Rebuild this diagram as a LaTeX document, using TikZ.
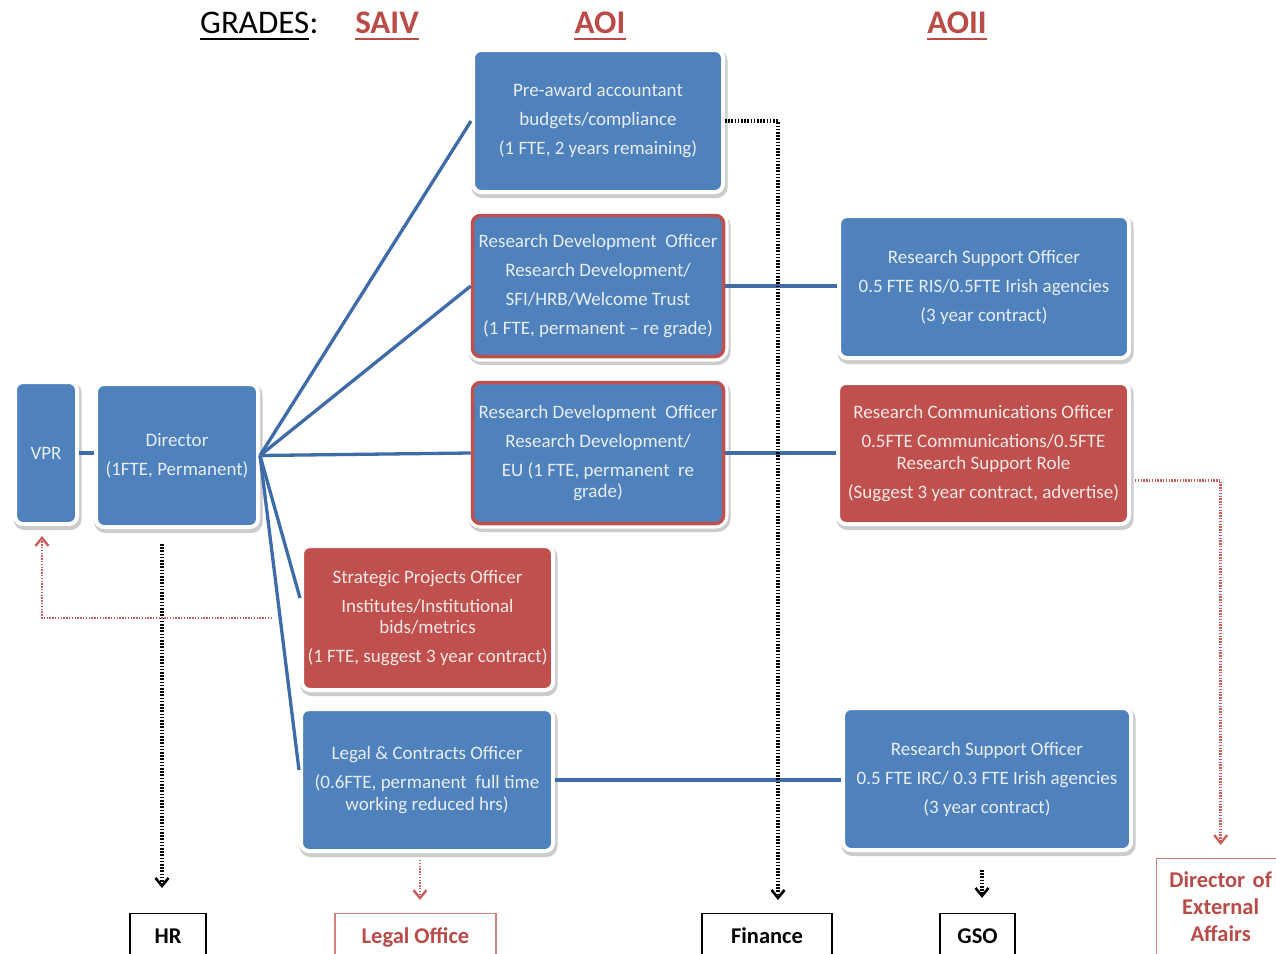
\documentclass[tikz,border=0pt]{standalone}
\usepackage{fontspec}
\setmainfont{Carlito}
\usetikzlibrary{arrows.meta,calc}
\definecolor{boxblue}{RGB}{79,129,189}
\definecolor{boxred}{RGB}{192,80,77}
\definecolor{lineblue}{RGB}{62,108,168}
\definecolor{txtblue}{RGB}{232,238,247}
\definecolor{txtred}{RGB}{250,232,230}
\definecolor{hdrred}{RGB}{185,75,72}
\definecolor{dotred}{RGB}{200,95,92}
\newcommand\pbr{\\[7.5pt]}
\begin{document}
\begin{tikzpicture}[x=1pt,y=-1pt,
  basebox/.style={rounded corners=8pt, text=txtblue, align=center, inner sep=0pt,
     font=\fontsize{19}{21.5}\selectfont},
  box/.style={basebox, fill=boxblue, draw=white, line width=4pt,
     preaction={draw=black!20, line width=6pt, transform canvas={xshift=1.5pt,yshift=-3pt}}},
  redbox/.style={box, fill=boxred, text=txtred},
  rimbox/.style={basebox, fill=boxblue, draw=boxred, line width=3.5pt,
     preaction={draw=black!20, line width=11pt, transform canvas={xshift=1.5pt,yshift=-3pt}},
     preaction={draw=white, line width=10pt}},
  conn/.style={draw=lineblue, line width=3.3pt},
  blkdot/.style={draw=black, line width=3.2pt, dash pattern=on 1.6pt off 1.6pt,
     -{Straight Barb[length=8pt,width=13pt,line width=2.6pt]}},
  reddot/.style={draw=dotred, line width=2.6pt, dash pattern=on 1.4pt off 1.4pt,
     -{Straight Barb[length=8pt,width=13pt,line width=2.4pt]}},
  lbl/.style={draw=black, line width=1.3pt, font=\bfseries\fontsize{22.5}{27}\selectfont,
     anchor=north, inner ysep=15pt, text height=14.5pt, text depth=2pt},
  redlbl/.style={lbl, draw=dotred!80, text=hdrred},
  hdr/.style={font=\bfseries\fontsize{33}{40}\selectfont, text=hdrred, anchor=base, inner sep=0pt},
  uline/.style={line width=2.6pt}
]
\clip (0,0) rectangle (1276,953);
\fill[white] (0,0) rectangle (1276,953);

% headers
\node[font=\fontsize{33}{40}\selectfont, anchor=base west, inner sep=0pt] (hg) at (200,33) {GRADES};
\node[font=\fontsize{33}{40}\selectfont, anchor=base west, inner sep=0pt] (hc) at (hg.base east) {:};
\draw[uline] ([yshift=-6pt]hg.base west) -- ([yshift=-6pt]hg.base east);
\node[hdr] (hs) at (387,33) {SAIV};
\node[hdr] (ha) at (600,33) {AOI};
\node[hdr] (hb) at (957,33) {AOII};
\draw[uline, hdrred] ([yshift=-6pt]hs.base west) -- ([yshift=-6pt]hs.base east);
\draw[uline, hdrred] ([yshift=-6pt]ha.base west) -- ([yshift=-6pt]ha.base east);
\draw[uline, hdrred] ([yshift=-6pt]hb.base west) -- ([yshift=-6pt]hb.base east);

% boxes
\node[box, minimum width=62, minimum height=142] (vpr) at (46,453) {VPR};
\node[box, minimum width=162, minimum height=143] (dir) at (177,455.5) {Director\pbr (1FTE, Permanent)};
\node[box, minimum width=250, minimum height=142] (pre) at (598,121) {Pre-award accountant\pbr budgets/compliance\pbr (1 FTE, 2 years remaining)};
\node[rimbox, minimum width=251, minimum height=141] (rdo1) at (598,286) {Research Development\ \ Officer\pbr Research Development/\pbr SFI/HRB/Welcome Trust\pbr (1 FTE, permanent \textendash\ re grade)};
\node[rimbox, minimum width=251, minimum height=141] (rdo2) at (598,453) {Research Development\ \ Officer\pbr Research Development/\pbr EU (1 FTE, permanent\ \ re\\ grade)};
\node[box, minimum width=290, minimum height=142] (rso1) at (984,287) {Research Support Officer\pbr 0.5 FTE RIS/0.5FTE Irish agencies\pbr (3 year contract)};
\node[redbox, minimum width=291, minimum height=141] (rco) at (983.5,453.5) {Research Communications Officer\pbr 0.5FTE Communications/0.5FTE\\ Research Support Role\pbr (Suggest 3 year contract, advertise)};
\node[redbox, minimum width=251, minimum height=144] (spo) at (427.5,618) {Strategic Projects Officer\pbr Institutes/Institutional\\ bids/metrics\pbr (1 FTE, suggest 3 year contract)};
\node[box, minimum width=252, minimum height=142] (legal) at (427,780) {Legal \& Contracts Officer\pbr (0.6FTE, permanent\ \ full time\\ working reduced hrs)};
\node[box, minimum width=288, minimum height=142] (rso2) at (987,779) {Research Support Officer\pbr 0.5 FTE IRC/ 0.3 FTE Irish agencies\pbr (3 year contract)};

% bottom offices
\node[lbl, minimum width=76] (hr) at (168,913) {HR};
\node[redlbl, minimum width=161] (lo) at (415.5,913) {Legal Office};
\node[lbl, minimum width=130] (fin) at (767,913) {Finance};
\node[lbl, minimum width=75] (gso) at (977.5,913) {GSO};
\node[draw=dotred!80, line width=1.3pt, anchor=north west, inner xsep=0pt, inner ysep=13pt,
      text width=128pt, align=center, text=hdrred,
      font=\bfseries\fontsize{22.5}{27}\selectfont] (dea) at (1156,858) {Director of\\ External\\ Affairs};

% solid connectors
\draw[conn] (vpr.east) -- (vpr.east -| dir.west);
\draw[conn] (dir.east) -- (pre.west);
\draw[conn] (dir.east) -- (rdo1.west);
\draw[conn] (dir.east) -- (rdo2.west);
\draw[conn] (dir.east) -- ([yshift=20pt]spo.west);
\draw[conn] (dir.east) -- ([yshift=10pt]legal.west);
\draw[conn] (rdo1.east) -- (rdo1.east -| rso1.west);
\draw[conn] (rdo2.east) -- (rdo2.east -| rco.west);
\draw[conn] (legal.east) -- (legal.east -| rso2.west);

% dotted connectors
\draw[blkdot] (pre.east) -| ([xshift=11pt,yshift=13pt]fin.north);
\draw[blkdot] ([xshift=-15pt,yshift=-15pt]dir.south) -- ([xshift=-6pt,yshift=25pt]hr.north);
\draw[reddot] ([xshift=-28pt]spo.west) -| ([xshift=-4pt,yshift=-10pt]vpr.south);
\draw[reddot] ([xshift=-7pt,yshift=-7pt]legal.south) -- ([xshift=4.5pt,yshift=13pt]lo.north);
\draw[blkdot] ([xshift=-5pt,yshift=-18pt]rso2.south) -- ([xshift=4.5pt,yshift=15pt]gso.north);
\draw[reddot] ([xshift=4pt,yshift=-27pt]rco.east) -| ([yshift=13pt]dea.north);
\end{tikzpicture}
\end{document}
